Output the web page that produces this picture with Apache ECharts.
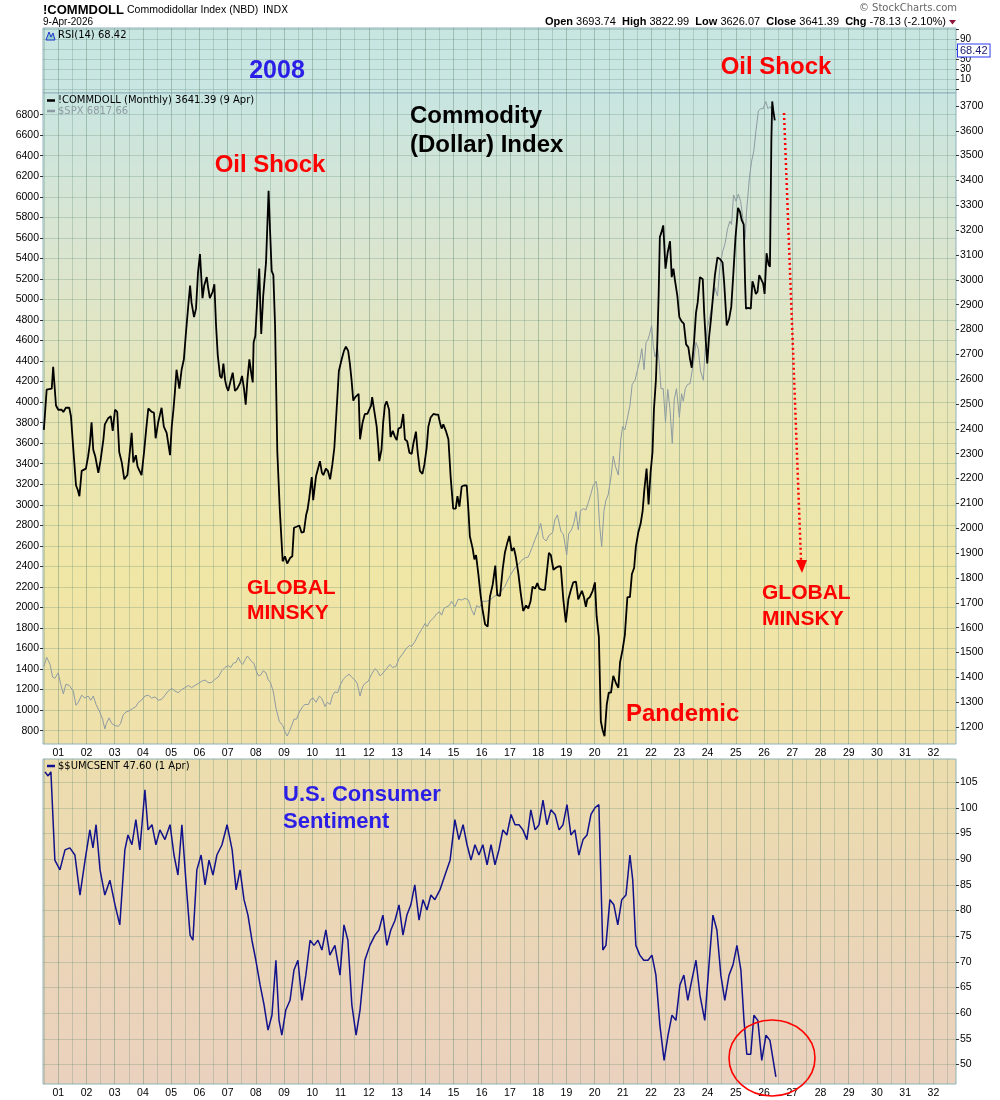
<!DOCTYPE html>
<html lang="en">
<head>
<meta charset="UTF-8">
<title>Commodity (Dollar) Index</title>
<script src="https://cdn.jsdelivr.net/npm/echarts@6/dist/echarts.min.js"></script>
<style>
  html, body { margin: 0; background: #fff; }
  #app { width: 1000px; height: 1100px; }
</style>
</head>
<body>
<div id="app"></div>
<script>
// ---- data (decimal year, value) ----
const commdoll = [
  [2000.49,2396],[2000.59,2558],[2000.77,2562],[2000.82,2650],[2000.92,2494],[2001.00,2477],[2001.12,2477],[2001.18,2468],
  [2001.27,2485],[2001.39,2485],[2001.45,2451],[2001.53,2324],[2001.63,2172],[2001.69,2155],[2001.75,2129],[2001.83,2231],
  [2001.89,2223],[2001.98,2240],[2002.06,2290],[2002.12,2341],[2002.18,2426],[2002.24,2316],[2002.31,2290],[2002.42,2223],
  [2002.50,2274],[2002.60,2358],[2002.65,2418],[2002.77,2443],[2002.86,2451],[2002.93,2392],[2003.01,2477],[2003.09,2468],
  [2003.16,2307],[2003.25,2265],[2003.34,2197],[2003.45,2214],[2003.52,2290],[2003.60,2384],[2003.66,2265],[2003.75,2294],
  [2003.81,2248],[2003.95,2214],[2004.04,2307],[2004.11,2392],[2004.19,2482],[2004.31,2468],[2004.39,2465],[2004.45,2362],
  [2004.54,2426],[2004.66,2485],[2004.74,2409],[2004.84,2384],[2004.96,2294],[2005.02,2409],[2005.08,2477],[2005.13,2545],
  [2005.19,2638],[2005.29,2562],[2005.37,2638],[2005.45,2680],[2005.52,2782],[2005.61,2901],[2005.67,2977],[2005.72,2909],
  [2005.81,2850],[2005.88,2884],[2005.95,3028],[2006.02,3104],[2006.11,2926],[2006.17,2977],[2006.26,3011],[2006.31,2968],
  [2006.37,2926],[2006.47,2952],[2006.53,2982],[2006.59,2816],[2006.65,2697],[2006.73,2613],[2006.79,2604],[2006.85,2663],
  [2006.91,2596],[2006.96,2570],[2007.02,2553],[2007.11,2596],[2007.18,2626],[2007.26,2553],[2007.34,2562],[2007.44,2584],
  [2007.51,2613],[2007.58,2562],[2007.64,2497],[2007.70,2596],[2007.77,2680],[2007.85,2613],[2007.89,2587],[2007.92,2748],
  [2007.98,2774],[2008.05,2918],[2008.12,3045],[2008.16,2884],[2008.19,2782],[2008.26,2935],[2008.36,3070],[2008.45,3358],
  [2008.50,3206],[2008.56,3036],[2008.62,3019],[2008.68,2816],[2008.76,2307],[2008.85,2070],[2008.95,1867],[2009.03,1887],
  [2009.11,1858],[2009.21,1880],[2009.29,1887],[2009.35,2002],[2009.44,2006],[2009.54,2011],[2009.62,1982],[2009.70,1985],
  [2009.78,2053],[2009.83,2074],[2009.89,2121],[2009.98,2206],[2010.03,2113],[2010.13,2209],[2010.19,2214],[2010.27,2270],
  [2010.34,2223],[2010.39,2214],[2010.48,2240],[2010.55,2231],[2010.63,2197],[2010.71,2257],[2010.78,2324],[2010.86,2477],
  [2010.94,2633],[2011.04,2680],[2011.12,2714],[2011.19,2731],[2011.27,2714],[2011.33,2663],[2011.39,2596],[2011.45,2514],
  [2011.52,2528],[2011.59,2531],[2011.64,2541],[2011.69,2358],[2011.72,2350],[2011.78,2426],[2011.86,2460],[2011.95,2460],
  [2012.02,2468],[2012.08,2494],[2012.12,2528],[2012.20,2468],[2012.28,2409],[2012.34,2324],[2012.37,2270],[2012.45,2316],
  [2012.51,2426],[2012.57,2494],[2012.63,2511],[2012.72,2477],[2012.77,2367],[2012.85,2392],[2012.93,2367],[2012.99,2355],
  [2013.05,2401],[2013.14,2406],[2013.22,2460],[2013.28,2358],[2013.36,2350],[2013.44,2304],[2013.52,2299],[2013.58,2341],
  [2013.67,2389],[2013.73,2307],[2013.81,2231],[2013.90,2219],[2013.97,2257],[2014.05,2324],[2014.11,2409],[2014.19,2446],
  [2014.29,2460],[2014.38,2457],[2014.46,2457],[2014.52,2426],[2014.58,2401],[2014.64,2418],[2014.73,2392],[2014.82,2358],
  [2014.90,2206],[2014.99,2079],[2015.08,2079],[2015.14,2129],[2015.21,2087],[2015.29,2168],[2015.37,2172],[2015.47,2172],
  [2015.53,2070],[2015.58,1968],[2015.68,1918],[2015.74,1875],[2015.80,1892],[2015.88,1816],[2015.96,1731],[2016.03,1672],
  [2016.12,1613],[2016.21,1604],[2016.29,1723],[2016.39,1774],[2016.48,1850],[2016.55,1731],[2016.65,1728],[2016.74,1833],
  [2016.82,1901],[2016.91,1943],[2016.98,1969],[2017.06,1909],[2017.14,1921],[2017.21,1884],[2017.30,1816],[2017.38,1740],
  [2017.47,1667],[2017.57,1689],[2017.65,1677],[2017.73,1706],[2017.80,1765],[2017.89,1757],[2017.97,1779],[2018.04,1757],
  [2018.12,1753],[2018.24,1752],[2018.30,1816],[2018.38,1901],[2018.45,1892],[2018.54,1833],[2018.63,1841],[2018.71,1846],
  [2018.80,1846],[2018.89,1714],[2018.98,1621],[2019.07,1714],[2019.15,1748],[2019.24,1782],[2019.34,1785],[2019.42,1714],
  [2019.48,1731],[2019.55,1748],[2019.62,1723],[2019.69,1684],[2019.74,1714],[2019.83,1723],[2019.93,1748],[2020.01,1782],
  [2020.07,1646],[2020.15,1562],[2020.22,1223],[2020.28,1189],[2020.35,1163],[2020.43,1291],[2020.50,1338],[2020.58,1338],
  [2020.66,1406],[2020.76,1375],[2020.84,1358],[2020.90,1460],[2020.99,1511],[2021.07,1570],[2021.16,1723],[2021.25,1723],
  [2021.32,1816],[2021.40,1841],[2021.46,1926],[2021.55,1985],[2021.63,2019],[2021.70,2070],[2021.76,2155],[2021.84,2240],
  [2021.91,2096],[2021.98,2223],[2022.05,2307],[2022.10,2477],[2022.17,2596],[2022.22,2748],[2022.27,2952],[2022.31,3172],
  [2022.36,3189],[2022.43,3219],[2022.51,3045],[2022.59,3112],[2022.67,3155],[2022.73,3011],[2022.79,3045],[2022.84,3002],
  [2022.93,2935],[2023.00,2850],[2023.08,2833],[2023.16,2824],[2023.24,2740],[2023.32,2728],[2023.38,2680],[2023.44,2646],
  [2023.52,2748],[2023.59,2867],[2023.65,2909],[2023.73,3011],[2023.83,3002],[2023.88,2867],[2023.94,2748],[2023.99,2663],
  [2024.05,2765],[2024.12,2841],[2024.20,2943],[2024.26,3019],[2024.35,3090],[2024.44,3084],[2024.53,3070],[2024.59,2985],
  [2024.68,2816],[2024.76,2841],[2024.84,2892],[2024.91,3019],[2024.99,3172],[2025.08,3290],[2025.15,3273],[2025.21,3240],
  [2025.28,3223],[2025.33,2985],[2025.36,2884],[2025.44,2887],[2025.53,2884],[2025.59,2994],[2025.64,2977],[2025.71,2943],
  [2025.77,2952],[2025.83,3019],[2025.90,3011],[2025.97,2985],[2026.02,2943],[2026.09,3107],[2026.16,3062],[2026.21,3053],
  [2026.26,3562],[2026.29,3718],[2026.33,3680],[2026.38,3641.39]
];

const spx = [
  [2000.49,1425],[2000.59,1515],[2000.71,1445],[2000.80,1322],[2000.88,1310],[2001.00,1363],[2001.08,1260],[2001.18,1158],
  [2001.27,1252],[2001.39,1240],[2001.53,1187],[2001.63,1047],[2001.71,1076],[2001.83,1145],[2001.95,1117],[2002.06,1137],
  [2002.15,1096],[2002.24,1137],[2002.34,1055],[2002.45,994],[2002.57,912],[2002.65,817],[2002.71,871],[2002.80,924],
  [2002.89,871],[2003.01,850],[2003.13,842],[2003.21,871],[2003.30,953],[2003.40,982],[2003.52,994],[2003.63,1014],
  [2003.75,1035],[2003.84,1076],[2003.95,1096],[2004.07,1137],[2004.19,1145],[2004.31,1117],[2004.43,1129],[2004.54,1096],
  [2004.66,1104],[2004.78,1145],[2004.90,1187],[2005.02,1211],[2005.13,1187],[2005.25,1170],[2005.37,1199],[2005.49,1219],
  [2005.61,1240],[2005.72,1219],[2005.84,1240],[2005.96,1260],[2006.08,1281],[2006.20,1293],[2006.31,1268],[2006.43,1268],
  [2006.55,1301],[2006.67,1322],[2006.79,1383],[2006.91,1416],[2007.02,1433],[2007.11,1416],[2007.20,1457],[2007.30,1465],
  [2007.38,1515],[2007.46,1465],[2007.53,1445],[2007.61,1486],[2007.70,1527],[2007.77,1539],[2007.85,1474],[2007.93,1457],
  [2008.00,1392],[2008.09,1334],[2008.17,1342],[2008.26,1383],[2008.36,1363],[2008.44,1293],[2008.52,1268],[2008.62,1178],
  [2008.71,1022],[2008.83,891],[2008.95,850],[2009.03,789],[2009.11,748],[2009.18,789],[2009.27,850],[2009.35,912],
  [2009.44,912],[2009.54,982],[2009.66,1035],[2009.74,1055],[2009.86,1055],[2009.94,1104],[2010.03,1117],[2010.13,1076],
  [2010.25,1137],[2010.33,1117],[2010.45,1035],[2010.53,1076],[2010.63,1055],[2010.72,1145],[2010.80,1178],[2010.90,1170],
  [2010.98,1240],[2011.10,1301],[2011.22,1334],[2011.31,1350],[2011.39,1322],[2011.51,1293],[2011.59,1260],[2011.69,1137],
  [2011.78,1227],[2011.86,1260],[2011.98,1281],[2012.10,1350],[2012.22,1404],[2012.30,1383],[2012.40,1334],[2012.51,1363],
  [2012.63,1404],[2012.75,1445],[2012.84,1416],[2012.96,1424],[2013.08,1506],[2013.20,1547],[2013.32,1597],[2013.44,1630],
  [2013.52,1621],[2013.64,1670],[2013.75,1732],[2013.87,1785],[2013.99,1843],[2014.07,1814],[2014.17,1867],[2014.29,1896],
  [2014.40,1937],[2014.50,1958],[2014.58,1925],[2014.66,1990],[2014.76,2007],[2014.85,2019],[2014.93,2060],[2015.05,2007],
  [2015.17,2081],[2015.29,2072],[2015.41,2089],[2015.53,2072],[2015.64,1978],[2015.73,1925],[2015.82,2019],[2015.92,1999],
  [2016.03,2060],[2016.17,2060],[2016.29,2072],[2016.41,2101],[2016.53,2122],[2016.65,2142],[2016.71,2130],[2016.82,2204],
  [2016.94,2277],[2017.06,2335],[2017.18,2388],[2017.30,2417],[2017.41,2458],[2017.53,2483],[2017.65,2491],[2017.77,2573],
  [2017.89,2663],[2018.00,2737],[2018.09,2819],[2018.18,2675],[2018.28,2647],[2018.39,2704],[2018.51,2728],[2018.59,2852],
  [2018.68,2901],[2018.75,2901],[2018.81,2737],[2018.89,2716],[2018.95,2614],[2019.01,2511],[2019.08,2716],[2019.18,2757],
  [2019.27,2827],[2019.34,2934],[2019.42,2757],[2019.50,2942],[2019.60,2962],[2019.69,2950],[2019.78,3024],[2019.86,3098],
  [2019.95,3188],[2020.05,3229],[2020.11,3127],[2020.17,2819],[2020.25,2593],[2020.33,2942],[2020.40,3044],[2020.48,3098],
  [2020.58,3270],[2020.66,3475],[2020.74,3372],[2020.84,3290],[2020.92,3618],[2020.99,3762],[2021.07,3729],[2021.16,3844],
  [2021.25,3966],[2021.33,4172],[2021.43,4213],[2021.52,4316],[2021.61,4418],[2021.67,4521],[2021.75,4316],[2021.82,4582],
  [2021.88,4603],[2021.94,4656],[2022.02,4746],[2022.08,4541],[2022.14,4439],[2022.23,4533],[2022.29,4377],[2022.35,4131],
  [2022.43,4131],[2022.51,3803],[2022.59,4123],[2022.67,3926],[2022.75,3598],[2022.82,4029],[2022.90,4131],[2023.00,3852],
  [2023.08,4082],[2023.14,4008],[2023.21,4131],[2023.29,4172],[2023.38,4180],[2023.46,4316],[2023.52,4418],[2023.59,4582],
  [2023.67,4521],[2023.75,4303],[2023.85,4213],[2023.92,4541],[2023.99,4726],[2024.08,4828],[2024.18,4972],[2024.26,5116],
  [2024.35,5033],[2024.44,5321],[2024.53,5464],[2024.62,5546],[2024.71,5690],[2024.79,5763],[2024.85,5731],[2024.92,6018],
  [2025.01,5956],[2025.09,6026],[2025.17,5956],[2025.24,5813],[2025.33,5587],[2025.38,5854],[2025.48,6182],[2025.56,6346],
  [2025.64,6448],[2025.71,6633],[2025.80,6838],[2025.88,6858],[2025.97,6858],[2026.06,6928],[2026.14,6858],[2026.21,6879],
  [2026.34,6817.66]
];

const umcsent = [
  [2000.53,107.0],[2000.64,106.2],[2000.74,107.0],[2000.88,89.8],[2001.06,87.9],[2001.24,91.8],[2001.41,92.2],[2001.59,90.8],
  [2001.77,83.0],[2001.95,89.8],[2002.12,95.7],[2002.23,92.2],[2002.34,96.7],[2002.48,87.9],[2002.65,83.0],[2002.83,85.9],
  [2003.01,81.1],[2003.18,77.2],[2003.36,91.8],[2003.47,94.7],[2003.61,92.8],[2003.75,97.7],[2003.89,91.8],[2004.07,103.5],
  [2004.18,95.7],[2004.32,96.7],[2004.46,92.8],[2004.60,95.7],[2004.78,93.8],[2004.96,96.7],[2005.10,90.8],[2005.24,86.9],
  [2005.38,96.7],[2005.52,85.9],[2005.67,75.2],[2005.77,74.2],[2005.91,87.9],[2006.06,90.8],[2006.20,85.0],[2006.34,89.8],
  [2006.48,86.9],[2006.62,90.8],[2006.80,92.8],[2006.98,96.7],[2007.16,91.8],[2007.30,84.0],[2007.44,87.9],[2007.58,82.1],
  [2007.72,79.1],[2007.86,74.2],[2008.00,70.3],[2008.15,65.5],[2008.29,61.6],[2008.43,56.7],[2008.57,59.6],[2008.71,70.3],
  [2008.82,58.6],[2008.92,55.7],[2009.06,60.6],[2009.21,62.5],[2009.35,68.4],[2009.49,70.3],[2009.63,62.5],[2009.77,67.4],
  [2009.92,74.2],[2010.06,73.2],[2010.20,74.2],[2010.34,72.3],[2010.48,76.2],[2010.62,71.3],[2010.80,73.2],[2010.98,67.4],
  [2011.12,77.2],[2011.26,74.2],[2011.40,61.6],[2011.55,55.7],[2011.69,60.6],[2011.86,70.3],[2012.04,73.2],[2012.22,75.2],
  [2012.36,76.2],[2012.50,79.1],[2012.64,73.2],[2012.78,76.2],[2012.93,78.1],[2013.07,81.1],[2013.21,75.2],[2013.35,79.1],
  [2013.49,81.1],[2013.63,85.0],[2013.78,78.1],[2013.92,82.1],[2014.06,80.1],[2014.20,83.0],[2014.34,82.1],[2014.52,84.0],
  [2014.70,86.9],[2014.88,89.8],[2015.05,97.7],[2015.19,93.8],[2015.34,96.7],[2015.48,92.8],[2015.62,89.8],[2015.76,92.8],
  [2015.90,90.8],[2016.04,92.8],[2016.19,88.9],[2016.33,92.8],[2016.47,88.9],[2016.61,91.8],[2016.75,95.7],[2016.89,94.7],
  [2017.04,98.7],[2017.18,96.7],[2017.32,96.7],[2017.46,95.7],[2017.60,93.8],[2017.74,99.6],[2017.89,95.7],[2018.03,96.7],
  [2018.17,101.5],[2018.31,96.7],[2018.45,99.6],[2018.60,98.7],[2018.74,95.7],[2018.88,96.7],[2019.02,100.6],[2019.16,94.7],
  [2019.30,95.7],[2019.44,90.8],[2019.59,93.8],[2019.73,94.7],[2019.87,98.7],[2020.01,100.0],[2020.15,100.6],[2020.29,72.3],
  [2020.40,73.2],[2020.54,82.1],[2020.68,81.1],[2020.82,77.2],[2020.96,82.1],[2021.11,83.0],[2021.25,90.8],[2021.35,85.9],
  [2021.46,73.2],[2021.60,71.3],[2021.74,70.3],[2021.89,70.3],[2022.03,71.3],[2022.17,67.4],[2022.31,57.7],[2022.46,50.8],
  [2022.60,55.7],[2022.74,59.6],[2022.88,58.6],[2023.02,65.5],[2023.16,67.4],[2023.30,62.5],[2023.44,66.4],[2023.59,70.3],
  [2023.73,63.5],[2023.90,58.6],[2024.05,69.4],[2024.19,79.1],[2024.33,76.2],[2024.47,67.4],[2024.61,62.5],[2024.76,67.4],
  [2024.90,69.4],[2025.04,73.2],[2025.18,68.4],[2025.29,58.6],[2025.39,52.0],[2025.53,52.0],[2025.64,59.6],[2025.78,58.6],
  [2025.92,50.8],[2026.07,55.7],[2026.21,54.7],[2026.42,47.6]
];

const yearTicks = [2001,2002,2003,2004,2005,2006,2007,2008,2009,2010,2011,2012,2013,2014,2015,2016,
  2017,2018,2019,2020,2021,2022,2023,2024,2025,2026,2027,2028,2029,2030,2031,2032];
const halfYearTicks = yearTicks.map(y => y - 0.5).concat([2032.5]);
const rsiLabels = [10, 30, 50, 90];
const rsiGridTicks = [-10, 10, 30, 50, 70, 90, 110];
const commTicks = [1200,1300,1400,1500,1600,1700,1800,1900,2000,2100,2200,2300,2400,2500,2600,2700,
  2800,2900,3000,3100,3200,3300,3400,3500,3600,3700];
const spxTicks = [800,1000,1200,1400,1600,1800,2000,2200,2400,2600,2800,3000,3200,3400,3600,3800,4000,
  4200,4400,4600,4800,5000,5200,5400,5600,5800,6000,6200,6400,6600,6800];
const sentTicks = [50,55,60,65,70,75,80,85,90,95,100,105];

const rsiLast = 68.42;
const commLast = 3641.39, spxLast = 6817.66, sentLast = 47.60;
const quoteOpen = '3693.74', quoteHigh = '3822.99', quoteLow = '3626.07', quoteClose = '3641.39', quoteChg = '-78.13 (-2.10%)';

// ---- layout ----
const X_MIN = 2000.46, X_MAX = 2032.8;
const LEFT = 43, RIGHT = 44;
const FRAME = '#8fb2bb';
const GRID_DARK = 'rgba(95,135,115,0.42)';
const GRID_LIGHT = 'rgba(95,135,115,0.28)';
const TICK_FONT = 'Liberation Sans';

const chart = echarts.init(document.getElementById('app'));

function grad(stops) {
  return new echarts.graphic.LinearGradient(0, 0, 0, 1, stops.map((c, i) => ({ offset: i / (stops.length - 1), color: c })));
}

function xAx(gridIndex, ticks, labels, color) {
  return {
    type: 'value', gridIndex, min: X_MIN, max: X_MAX,
    axisLine: { show: false },
    axisTick: { show: false, customValues: ticks },
    axisLabel: labels ? {
      show: true, customValues: yearTicks, margin: 4, color: '#000', fontSize: 10.5, fontFamily: TICK_FONT,
      formatter: v => String(Math.round(v) % 100).padStart(2, '0')
    } : { show: false },
    splitLine: { show: true, lineStyle: { color, width: 1 } }
  };
}

function yAx(gridIndex, position, min, max, labels, ticks, split, labelExtra) {
  return {
    type: 'value', gridIndex, position, min, max,
    axisLine: { show: false },
    axisTick: { show: true, length: 3, customValues: ticks, lineStyle: { color: '#333' } },
    axisLabel: Object.assign({ show: true, customValues: labels, margin: 4, color: '#000', fontSize: 10.5, fontFamily: TICK_FONT,
      showMinLabel: true, showMaxLabel: true, hideOverlap: false, formatter: v => String(v) }, labelExtra || {}),
    splitLine: { show: split, lineStyle: { color: GRID_LIGHT, width: 1 } }
  };
}

const tagStyle = {
  show: true, position: 'end', distance: 2,
  fontFamily: TICK_FONT, fontSize: 11, fontWeight: 'bold', color: '#000',
  backgroundColor: '#dff3f6', borderColor: '#000', borderWidth: 1, padding: [1, 2, 0, 2]
};
function tag(value, text, opt) {
  return {
    silent: true, symbol: 'none', animation: false,
    lineStyle: { opacity: 0 },
    data: [{ yAxis: value }],
    label: Object.assign({}, tagStyle, { formatter: text }, opt || {})
  };
}

const annoFont = 'bold 24px "Liberation Sans", Arial, sans-serif';
function txt(x, y, text, fill, font, align) {
  return { type: 'text', x, y, z: 100, silent: true,
    style: { text, fill, font, textAlign: align || 'left', textVerticalAlign: 'middle' } };
}

const option = {
  animation: false,
  backgroundColor: '#ffffff',
  grid: [
    { left: LEFT, right: RIGHT, top: 28, height: 65, show: true, borderColor: FRAME, borderWidth: 1,
      backgroundColor: grad(['#c7e5e1', '#c9e6e2']) },
    { left: LEFT, right: RIGHT, top: 93, height: 651, show: true, borderColor: FRAME, borderWidth: 1,
      backgroundColor: grad(['#c8e5e1', '#dbe5cf', '#e9e6b6', '#f0e6a5', '#efe0ab']) },
    { left: LEFT, right: RIGHT, top: 759, height: 325, show: true, borderColor: FRAME, borderWidth: 1,
      backgroundColor: grad(['#ecddad', '#ebd6b6', '#ead1be']) }
  ],
  xAxis: [
    xAx(0, yearTicks, false, GRID_DARK), xAx(0, halfYearTicks, false, GRID_LIGHT),
    xAx(1, yearTicks, true, GRID_DARK), xAx(1, halfYearTicks, false, GRID_LIGHT),
    xAx(2, yearTicks, true, GRID_DARK), xAx(2, halfYearTicks, false, GRID_LIGHT)
  ],
  yAxis: [
    yAx(0, 'right', -16.6, 113.4, rsiLabels, rsiGridTicks, true, { fontSize: 10, lineHeight: 8 }),
    yAx(1, 'right', 1131.5, 3752, commTicks, commTicks, false),
    yAx(1, 'left', 670, 7011, spxTicks, spxTicks, true),
    yAx(2, 'right', 46.2, 109.5, sentTicks, sentTicks, true)
  ],
  series: [
    { type: 'line', name: '$SPX', xAxisIndex: 2, yAxisIndex: 2, data: spx, symbol: 'none', z: 3, clip: false,
      lineStyle: { color: '#8d9ba2', width: 1 },
      markLine: tag(spxLast, String(spxLast), { color: '#16325c', backgroundColor: '#c9f0f7', borderColor: '#7fb7c7' }) },
    { type: 'line', name: '!COMMDOLL', xAxisIndex: 2, yAxisIndex: 1, data: commdoll, symbol: 'none', z: 5, clip: false,
      lineStyle: { color: '#000', width: 1.8 },
      markLine: tag(commLast, String(commLast), { backgroundColor: '#d9f3f7' }) },
    { type: 'line', name: '$$UMCSENT', xAxisIndex: 4, yAxisIndex: 3, data: umcsent, symbol: 'none', z: 5, clip: false,
      lineStyle: { color: '#12128c', width: 1.5 },
      markLine: tag(sentLast, sentLast.toFixed(2), { color: '#0d0d60', backgroundColor: '#e6f6f8', borderColor: '#12128c' }) }
  ],
  graphic: [
    // header
    txt(43, 10, '!COMMDOLL', '#000', 'bold 13px "Liberation Sans", Arial, sans-serif'),
    txt(127, 10, 'Commodidollar Index (NBD)', '#000', '10.5px "Liberation Sans", Arial, sans-serif'),
    txt(263, 10, 'INDX', '#000', '10px "DejaVu Sans", sans-serif'),
    txt(43, 22, '9-Apr-2026', '#000', '10px "Liberation Sans", Arial, sans-serif'),
    txt(957, 8, '\u00a9 StockCharts.com', '#666', '10px "DejaVu Sans", sans-serif', 'right'),
    { type: 'text', x: 946, y: 22, z: 100, silent: true,
      style: { text: '{b|Open} ' + quoteOpen + '  {b|High} ' + quoteHigh + '  {b|Low} ' + quoteLow +
        '  {b|Close} ' + quoteClose + '  {b|Chg} ' + quoteChg,
        fill: '#000', font: '11px "Liberation Sans", Arial, sans-serif', textAlign: 'right', textVerticalAlign: 'middle',
        rich: { b: { font: 'bold 11px "Liberation Sans", Arial, sans-serif', fill: '#000' } } } },
    { type: 'polygon', z: 100, silent: true, shape: { points: [[949, 20], [956, 20], [952.5, 24.5]] }, style: { fill: '#8b1838' } },
    // panel legends
    { type: 'polygon', z: 100, silent: true, shape: { points: [[46, 40], [49, 32], [51, 37], [53, 33], [55, 40]] },
      style: { fill: '#8fcfc8', stroke: '#2233cc', lineWidth: 1 } },
    txt(58, 35, 'RSI(14) 68.42', '#000', '10px "DejaVu Sans", sans-serif'),
    { type: 'line', z: 100, silent: true, shape: { x1: 47, y1: 100.5, x2: 55, y2: 100.5 }, style: { stroke: '#000', lineWidth: 2.5 } },
    txt(58, 100.5, '!COMMDOLL (Monthly) 3641.39 (9 Apr)', '#000', '10px "DejaVu Sans", sans-serif'),
    { type: 'line', z: 100, silent: true, shape: { x1: 47, y1: 111, x2: 55, y2: 111 }, style: { stroke: '#8d9ba2', lineWidth: 2.5 } },
    txt(58, 111, '$SPX 6817.66', '#8d9ba2', '10px "DejaVu Sans", sans-serif'),
    { type: 'line', z: 100, silent: true, shape: { x1: 47, y1: 766, x2: 55, y2: 766 }, style: { stroke: '#12128c', lineWidth: 2.5 } },
    txt(58, 766, '$$UMCSENT 47.60 (1 Apr)', '#000', '10px "DejaVu Sans", sans-serif'),
    // annotations
    txt(277, 71, '2008', '#2b1ee6', 'bold 25px "Liberation Sans", Arial, sans-serif', 'center'),
    txt(776, 67, 'Oil Shock', '#ff0000', annoFont, 'center'),
    txt(410, 116, 'Commodity', '#000', annoFont),
    txt(410, 145, '(Dollar) Index', '#000', annoFont),
    txt(270, 165, 'Oil Shock', '#ff0000', annoFont, 'center'),
    txt(247, 588, 'GLOBAL', '#ff0000', 'bold 21px "Liberation Sans", Arial, sans-serif'),
    txt(247, 613, 'MINSKY', '#ff0000', 'bold 21px "Liberation Sans", Arial, sans-serif'),
    txt(626, 714, 'Pandemic', '#ff0000', annoFont),
    txt(762, 593, 'GLOBAL', '#ff0000', 'bold 21px "Liberation Sans", Arial, sans-serif'),
    txt(762, 619, 'MINSKY', '#ff0000', 'bold 21px "Liberation Sans", Arial, sans-serif'),
    txt(283, 795, 'U.S. Consumer', '#2b1ee6', 'bold 22px "Liberation Sans", Arial, sans-serif'),
    txt(283, 822, 'Sentiment', '#2b1ee6', 'bold 22px "Liberation Sans", Arial, sans-serif'),
    // dotted arrow and circle
    { type: 'line', z: 100, silent: true, shape: { x1: 784, y1: 113, x2: 801, y2: 560 },
      style: { stroke: '#ff0000', lineWidth: 2.5, lineDash: [2, 3] } },
    { type: 'polygon', z: 100, silent: true, shape: { points: [[796, 560], [807, 560], [802, 573]] }, style: { fill: '#ff0000' } },
    { type: 'ellipse', z: 100, silent: true, shape: { cx: 772, cy: 1058, rx: 43, ry: 38 },
      style: { fill: 'none', stroke: '#ff0000', lineWidth: 1.6 } }
  ]
};

chart.setOption(option);

// RSI last-value tag on the RSI axis (no RSI line is visible in the panel)
const rsiY = chart.convertToPixel({ yAxisIndex: 0 }, rsiLast);
const rsiX = chart.convertToPixel({ xAxisIndex: 0 }, X_MAX);
chart.setOption({
  graphic: option.graphic.concat([{
    type: 'text', x: rsiX + 2, y: rsiY, z: 110, silent: true,
    style: { text: String(rsiLast), font: '11px "Liberation Sans", Arial, sans-serif', fill: '#1a1a70',
      textVerticalAlign: 'middle', backgroundColor: '#ffffff', borderColor: '#2a3cf0', borderWidth: 1, padding: [1, 2, 0, 2] }
  }])
}, { replaceMerge: ['graphic'] });
</script>
</body>
</html>
